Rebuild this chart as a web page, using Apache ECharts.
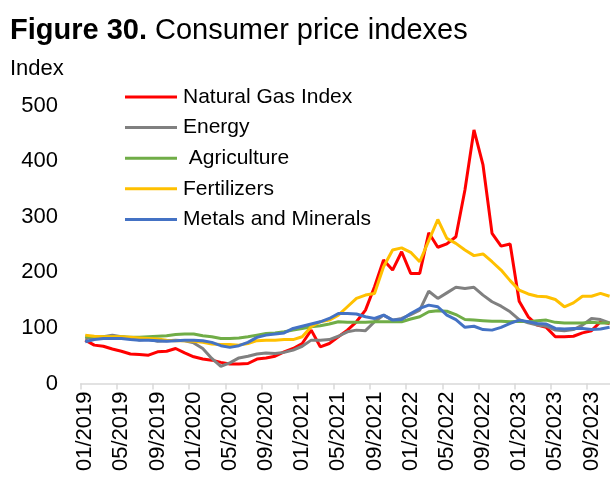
<!DOCTYPE html>
<html>
<head>
<meta charset="utf-8">
<script src="https://cdn.jsdelivr.net/npm/echarts@6/dist/echarts.min.js"></script>
<style>
  html, body { margin: 0; padding: 0; background: #fff; overflow: hidden; }
  /* the reference is cropped at the right edge, so the chart is a bit wider than the window */
  #chart { width: 620px; height: 487px; }
</style>
</head>
<body>
<div id="chart"></div>
<script>
  // monthly, 01/2019 .. 11/2023
  var months = [];
  for (var y = 2019; y <= 2023; y++) {
    for (var m = 1; m <= 12; m++) {
      if (y === 2023 && m > 11) break;
      months.push((m < 10 ? '0' + m : '' + m) + '/' + y);
    }
  }

  var yTicks = [0, 100, 200, 300, 400, 500];

  var naturalGas = [78, 69, 67, 62, 58, 53, 52, 51, 57, 58, 63, 55, 48, 44, 42, 38, 35, 35, 36, 44,
    46, 49, 57, 63, 72, 96, 66, 72, 84, 96, 111, 132, 174, 222, 204, 237, 198, 198, 271, 245,
    251, 264, 348, 456, 393, 270, 247, 251, 148, 120, 105, 101, 84, 84, 85, 91, 95, 111, 108];

  var energy = [81, 83, 84, 87, 84, 82, 78, 80, 76, 77, 78, 77, 73, 63, 45, 31, 37, 46, 49, 53,
    55, 54, 56, 60, 67, 78, 78, 79, 85, 93, 96, 95, 111, 123, 114, 117, 124, 132, 166, 153,
    163, 173, 171, 173, 159, 147, 139, 129, 115, 109, 105, 103, 96, 95, 97, 105, 117, 115, 109];

  var agriculture = [84, 84, 84, 84, 84, 83, 83, 84, 85, 86, 88, 89, 89, 86, 84, 81, 81, 82, 84, 87,
    90, 91, 93, 96, 99, 102, 104, 107, 111, 110, 110, 110, 111, 111, 111, 111, 116, 120, 129, 131,
    130, 124, 115, 114, 113, 112, 112, 111, 112, 111, 113, 114, 110, 109, 109, 109, 110, 109, 109];

  var fertilizers = [87, 85, 84, 84, 84, 83, 82, 81, 80, 78, 77, 77, 76, 74, 71, 70, 70, 69, 72, 77,
    78, 78, 79, 79, 84, 102, 111, 114, 123, 138, 153, 159, 162, 210, 240, 244, 236, 219, 257, 295,
    261, 252, 240, 230, 233, 219, 204, 185, 168, 161, 157, 156, 151, 138, 145, 157, 157, 162, 157];

  var metals = [75, 79, 81, 81, 81, 79, 78, 78, 77, 76, 77, 78, 78, 77, 74, 68, 65, 68, 74, 83,
    87, 89, 91, 99, 103, 107, 111, 117, 126, 126, 125, 120, 117, 123, 114, 115, 126, 135, 141, 138,
    123, 115, 101, 103, 97, 96, 101, 108, 114, 111, 108, 107, 99, 98, 99, 99, 97, 98, 101];

  var seriesNames = ['Natural Gas Index', 'Energy', ' Agriculture', 'Fertilizers', 'Metals and Minerals'];
  var seriesData = [naturalGas, energy, agriculture, fertilizers, metals];
  var colors = ['#FF0000', '#808080', '#70AD47', '#FFC000', '#4472C4'];

  var font = '"Liberation Sans", Arial, sans-serif';

  var option = {
    animation: false,
    color: colors,
    textStyle: { fontFamily: font, color: '#000' },
    title: [
      {
        text: '{b|Figure 30.} Consumer price indexes',
        left: 5,
        top: 11,
        textStyle: {
          fontFamily: font,
          fontSize: 29,
          fontWeight: 'normal',
          color: '#000',
          rich: { b: { fontFamily: font, fontSize: 29, fontWeight: 'bold', color: '#000' } }
        }
      },
      {
        text: 'Index',
        left: 5,
        top: 53,
        textStyle: { fontFamily: font, fontSize: 22, fontWeight: 'normal', color: '#000' }
      }
    ],
    legend: {
      orient: 'vertical',
      left: 120,
      top: 81,
      icon: 'rect',
      itemWidth: 52,
      itemHeight: 3,
      itemGap: 8.6,
      textStyle: { fontFamily: font, fontSize: 21, color: '#000', lineHeight: 22, padding: [0, 0, 0, 1] },
      data: seriesNames
    },
    grid: {
      left: 80.7,
      right: 5.9,
      top: 105.5,
      bottom: 103.5
    },
    xAxis: {
      type: 'category',
      data: months,
      boundaryGap: true,
      axisLine: { lineStyle: { color: '#D9D9D9', width: 1.5 } },
      axisTick: { show: true, interval: 3, length: 6, lineStyle: { color: '#D9D9D9', width: 1.5 } },
      axisLabel: {
        interval: 3,
        rotate: 90,
        margin: 8,
        fontFamily: font,
        fontSize: 22,
        color: '#000'
      }
    },
    yAxis: {
      type: 'value',
      min: yTicks[0],
      max: yTicks[yTicks.length - 1],
      interval: 100,
      axisLine: { show: false },
      axisTick: { show: false },
      splitLine: { show: false },
      axisLabel: { margin: 22.7, fontFamily: font, fontSize: 22, color: '#000' }
    },
    series: seriesNames.map(function (name, i) {
      return {
        name: name,
        type: 'line',
        data: seriesData[i],
        symbol: 'none',
        lineStyle: { width: 3, color: colors[i] },
        itemStyle: { color: colors[i] }
      };
    })
  };

  var myChart = echarts.init(document.getElementById('chart'));
  myChart.setOption(option);
</script>
</body>
</html>
